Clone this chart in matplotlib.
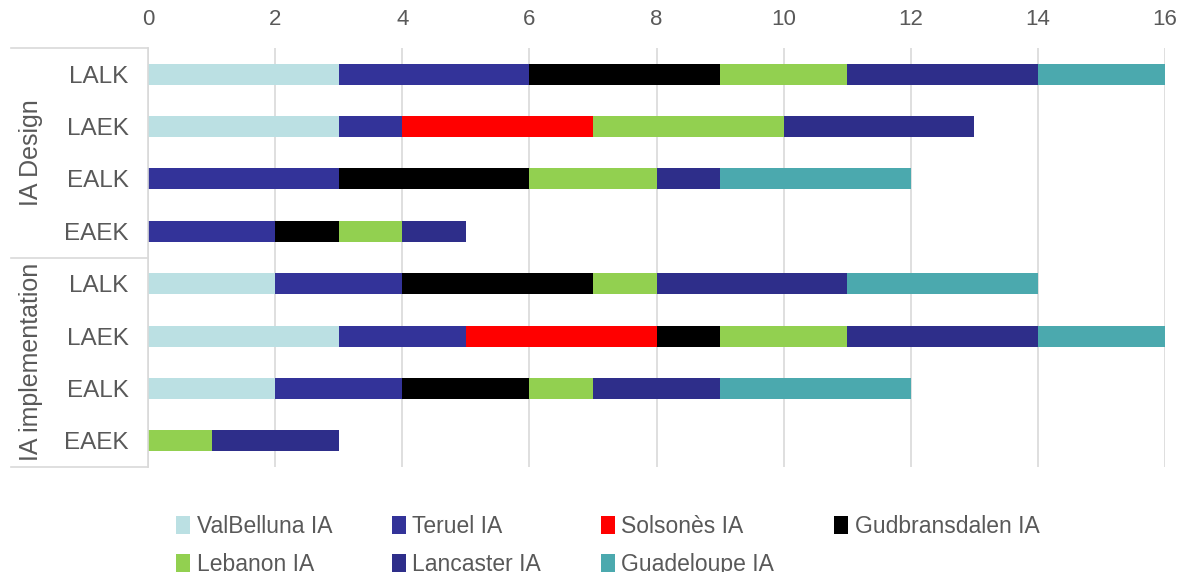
import matplotlib
matplotlib.use("Agg")
import matplotlib.pyplot as plt
import numpy as np

plt.rcParams["font.family"] = ["Liberation Sans", "DejaVu Sans"]

# rows top to bottom
categories = ["LALK", "LAEK", "EALK", "EAEK", "LALK", "LAEK", "EALK", "EAEK"]
groups = ["IA Design", "IA implementation"]

series_names = ["ValBelluna IA", "Teruel IA", "Solsonès IA", "Gudbransdalen IA",
                "Lebanon IA", "Lancaster IA", "Guadeloupe IA"]
valbelluna = [3, 3, 0, 0, 2, 3, 2, 0]
teruel = [3, 1, 3, 2, 2, 2, 2, 0]
solsones = [0, 3, 0, 0, 0, 3, 0, 0]
gudbransdalen = [3, 0, 3, 1, 3, 1, 2, 0]
lebanon = [2, 3, 2, 1, 1, 2, 1, 1]
lancaster = [3, 3, 1, 1, 3, 3, 2, 2]
guadeloupe = [2, 0, 3, 0, 3, 2, 3, 0]

series = [valbelluna, teruel, solsones, gudbransdalen, lebanon, lancaster, guadeloupe]
colors = ["#BBE0E3", "#333399", "#FF0000", "#000000", "#92D050", "#2E2E8A", "#4BA9AE"]

text_col = "#595959"
grid_col = "#D9D9D9"

fig = plt.figure(figsize=(11.96, 5.72), dpi=100)
ax = fig.add_axes([148 / 1196, 1 - 467 / 572, (1165 - 148) / 1196, (467 - 48) / 572])

y = np.arange(len(categories))
left = np.zeros(len(categories))
handles = []
for name, vals, c in zip(series_names, series, colors):
    vals = np.array(vals, dtype=float)
    h = ax.barh(y, vals, left=left, height=0.4, color=c, label=name, linewidth=0)
    handles.append(h)
    left += vals

ax.set_xlim(0, 16)
ax.set_ylim(len(categories) - 0.5, -0.5)
ax.set_xticks(range(0, 17, 2))
ax.xaxis.tick_top()
ax.tick_params(axis="x", length=0, pad=13, labelsize=16, labelcolor=text_col)
ax.set_yticks(y)
ax.set_yticklabels(categories)
ax.tick_params(axis="y", length=0, pad=14, labelsize=17.5, labelcolor=text_col)
ax.grid(axis="x", color=grid_col, linewidth=1.2)
ax.set_axisbelow(True)
for s in ["top", "right", "bottom"]:
    ax.spines[s].set_visible(False)
ax.spines["left"].set_color(grid_col)
ax.spines["left"].set_linewidth(1.2)

# group brackets on the left
trans = ax.get_yaxis_transform()
x0 = (11 - 148) / (1165 - 148)
for yy in [-0.5, 3.5, 7.5]:
    ax.plot([x0, 0], [yy, yy], color=grid_col, linewidth=1.2, transform=trans, clip_on=False)
gx = (31 - 148) / (1165 - 148)
ax.text(gx, 1.5, groups[0], transform=trans, rotation=90, ha="center", va="center",
        fontsize=18, color=text_col)
ax.text(gx, 5.5, groups[1], transform=trans, rotation=90, ha="center", va="center",
        fontsize=18, color=text_col)

# legend: column-major fill, so reorder to get two rows
order = [0, 4, 1, 5, 2, 6, 3]
fig.legend([handles[i] for i in order], [series_names[i] for i in order],
           loc="upper left", bbox_to_anchor=(167 / 1196, 1 - 506 / 572), ncol=4,
           frameon=False, fontsize=16.5, labelcolor=text_col,
           handlelength=0.6, handleheight=0.85, handletextpad=0.3,
           columnspacing=2.6, labelspacing=0.65, borderaxespad=0)

fig.savefig("out.png", dpi=100)
